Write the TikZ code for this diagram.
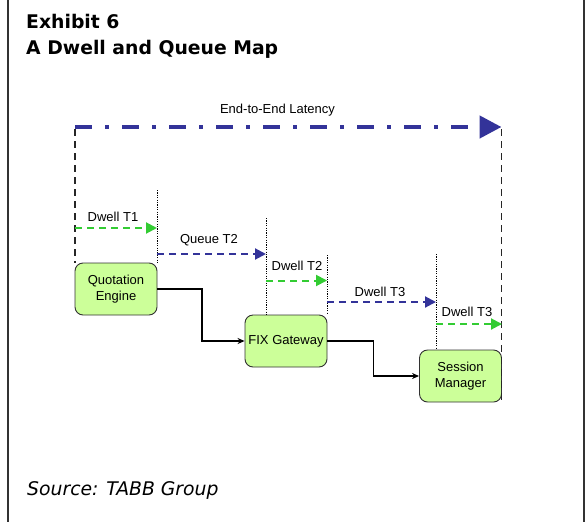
\documentclass[tikz,border=0pt]{standalone}
\usepackage{fontspec}
\setmainfont{Liberation Sans}
\newfontfamily\verdanalike{DejaVu Sans}
\usetikzlibrary{arrows.meta}
\definecolor{navy}{RGB}{51,51,153}
\definecolor{dwellgreen}{RGB}{51,204,51}
\definecolor{boxfill}{RGB}{204,255,153}
\definecolor{framegray}{RGB}{50,50,50}
\begin{document}
\begin{tikzpicture}[x=1pt,y=-1pt,
  proc/.style={draw=framegray, line width=0.9pt, fill=boxfill, rounded corners=8pt,
    minimum width=82pt, minimum height=52pt, align=center, inner sep=0pt,
    font=\fontsize{13}{16}\selectfont},
  lbl/.style={inner sep=0pt, font=\fontsize{13}{16}\selectfont},
  dwell/.style={draw=dwellgreen, line width=2pt, dash pattern=on 7pt off 5pt,
    -{Triangle[length=11pt,width=11pt,fill=dwellgreen]}},
  queue/.style={draw=navy, line width=2pt, dash pattern=on 7pt off 5pt,
    -{Triangle[length=11pt,width=11pt,fill=navy]}},
  total/.style={draw=navy, line width=4.5pt, dash pattern=on 17pt off 13pt on 4pt off 13pt,
    -{Triangle[length=22pt,width=22pt,fill=navy]}},
  bound/.style={draw=black!85, line width=1.4pt, dash pattern=on 7pt off 5pt},
  tick/.style={draw=black, line width=0.6pt, dash pattern=on 1.2pt off 1.2pt},
  conn/.style={draw=black, line width=1.6pt, -{Stealth[length=7pt,width=6pt]}},
  heading/.style={anchor=base west, inner sep=0pt, font=\verdanalike\bfseries\fontsize{18.8}{22}\selectfont}
]
\useasboundingbox (0,0) rectangle (585,522);

% side rules of the exhibit frame
\draw[framegray, line width=1.5pt] (8,0) -- (8,522);
\draw[framegray, line width=2pt] (583.5,0) -- (583.5,522);

% heading and source line
\node[heading] (title1) at (26,28) {Exhibit 6};
\node[heading] (title2) at (26,54) {A Dwell and Queue Map};
\node[anchor=base west, inner sep=0pt, font=\verdanalike\itshape\fontsize{18.8}{22}\selectfont] (source) at (27,495) {Source: TABB Group};

% processing stages
\node[proc] (qe)   at (116,289) {Quotation\\Engine};
\node[proc] (fix)  at (286,341) {FIX Gateway};
\node[proc] (sm)   at (460.5,376) {Session\\Manager};

% time boundaries
\coordinate (tA) at (75,127);
\coordinate (tB) at (501.5,127);
\coordinate (m1) at (157,190);
\coordinate (m2) at (266,218);
\coordinate (m3) at (327,255);
\coordinate (m4) at (436,254);
\coordinate (bA) at (75,129);
\coordinate (bB) at (501.5,129);

\draw[bound] (bA) -- (bA |- qe.north);
\draw[bound] (bB) -- (bB |- sm.south);
\draw[tick] (m1) -- (m1 |- qe.north);
\draw[tick] (m2) -- (m2 |- fix.north);
\draw[tick] (m3) -- (m3 |- fix.north);
\draw[tick] (m4) -- (m4 |- sm.north);

% end-to-end latency
\draw[total] (tA) -- (tB);
\node[lbl] (lat) at (277.5,110) {End-to-End Latency};

% dwell and queue intervals
\coordinate (d1s) at (75,228);   \coordinate (d1e) at (157,228);
\coordinate (q2s) at (157,254);  \coordinate (q2e) at (266,254);
\coordinate (d2s) at (266,280.5);\coordinate (d2e) at (327,280.5);
\coordinate (q3s) at (327,302);  \coordinate (q3e) at (436,302);
\coordinate (d3s) at (436,324);  \coordinate (d3e) at (502,324);

\draw[dwell] (d1s) -- (d1e);
\draw[queue] (q2s) -- (q2e);
\draw[dwell] (d2s) -- (d2e);
\draw[queue] (q3s) -- (q3e);
\draw[dwell] (d3s) -- (d3e);

\node[lbl] (l1) at (113,217) {Dwell T1};
\node[lbl] (l2) at (209,240) {Queue T2};
\node[lbl] (l3) at (297,266) {Dwell T2};
\node[lbl] (l4) at (380,292) {Dwell T3};
\node[lbl] (l5) at (467,312) {Dwell T3};

% message flow
\draw[conn] (qe.east) -- ++(44.5,0) |- (fix.west);
\draw[conn] (fix.east) -- ++(46,0) |- (sm.west);
\end{tikzpicture}
\end{document}
